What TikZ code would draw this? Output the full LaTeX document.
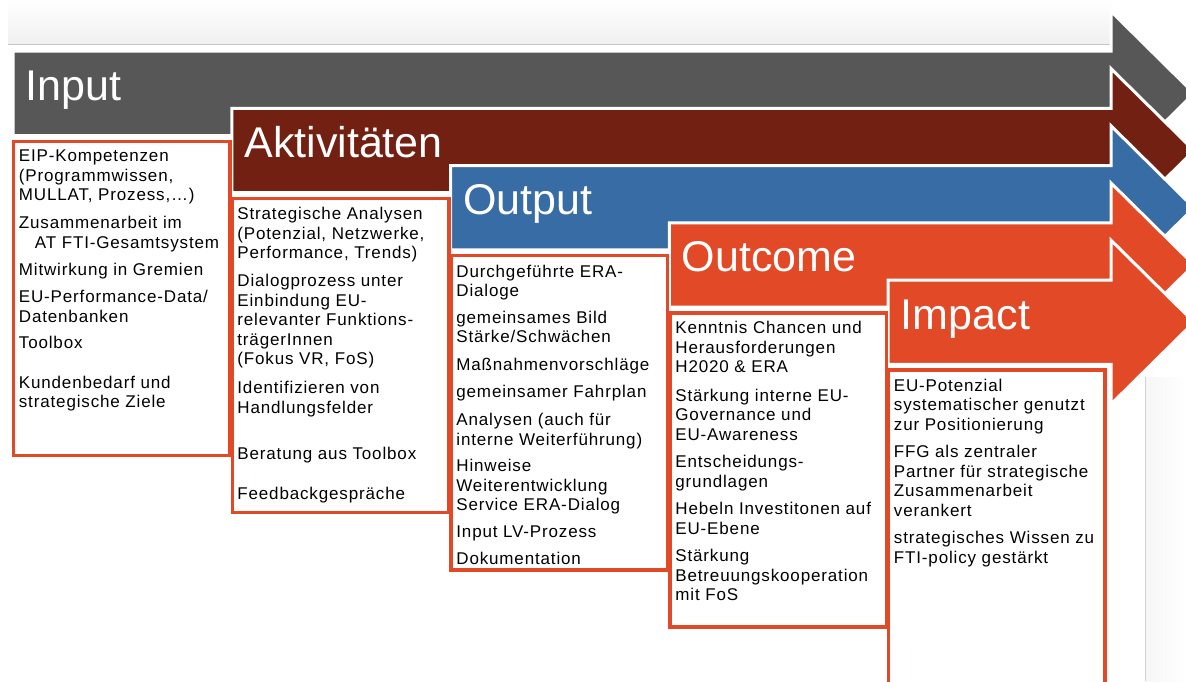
\documentclass[tikz,border=0pt]{standalone}
\usepackage{fontspec}
\setmainfont{Liberation Sans}
\newfontfamily\boxfont{Liberation Sans}[LetterSpace=5]

\definecolor{inputgray}{RGB}{87,87,87}
\definecolor{aktbrown}{RGB}{114,32,18}
\definecolor{outblue}{RGB}{56,108,165}
\definecolor{phasered}{RGB}{226,73,38}

\begin{document}
\begin{tikzpicture}[x=0.5pt, y=-0.5pt,
    phase/.style={draw=white, line width=1.5pt, line join=miter},
    frame/.style={draw=phasered, fill=white, line width=1.75pt},
    title/.style={anchor=base west, inner sep=0pt, text=white, font=\fontsize{21.5pt}{24pt}\selectfont},
    txt/.style={anchor=north west, inner sep=0pt, align=left, font=\boxfont\fontsize{8.5pt}{9.8pt}\selectfont}]
    \useasboundingbox (0,0) rectangle (1186,681);
    \clip (0,0) rectangle (1186,681);

    % page edges
    \shade[top color=white, bottom color=gray!12] (8,0) rectangle (1112,44);
    \draw[gray!45, line width=0.5pt] (8,44) -- (1112,44);
    \shade[left color=gray!7, right color=white] (1145,377) rectangle (1186,681);
    \draw[gray!35, line width=0.5pt] (1145,377) -- (1145,681);

    % arrows
    \draw[phase, fill=inputgray] (13,51.2) -- (1111,51.2) -- (1111,11.4) -- (1194,93.4)
        -- (1111,175.4) -- (1111,135.5) -- (13,135.5) -- cycle;
    \draw[phase, fill=aktbrown] (231.8,108.4) -- (1111,108.4) -- (1111,68.6) -- (1194,150.6)
        -- (1111,232.6) -- (1111,192.7) -- (231.8,192.7) -- cycle;
    \draw[phase, fill=outblue] (450.6,165.6) -- (1111,165.6) -- (1111,125.8) -- (1194,207.8)
        -- (1111,289.8) -- (1111,249.9) -- (450.6,249.9) -- cycle;
    \draw[phase, fill=phasered] (669.4,222.8) -- (1111,222.8) -- (1111,183) -- (1194,265)
        -- (1111,347) -- (1111,307.1) -- (669.4,307.1) -- cycle;
    \draw[phase, fill=phasered] (888.2,280) -- (1111,280) -- (1111,240.2) -- (1194,322.2)
        -- (1111,404.2) -- (1111,364.3) -- (888.2,364.3) -- cycle;

    \node[title] (tin)  at (25,100)     {Input};
    \node[title] (takt) at (244,157.2)  {Aktivitäten};
    \node[title] (tout) at (463,214.5)  {Output};
    \node[title] (toc)  at (681.5,271.7) {Outcome};
    \node[title] (tim)  at (900.5,329)  {Impact};

    % boxes
    \draw[frame] (13.5,141.3) rectangle (230,455.5);
    \draw[frame] (232.3,198.5) rectangle (448.8,512.7);
    \draw[frame] (451.1,255.7) rectangle (667.6,569.9);
    \draw[frame] (669.9,312.9) rectangle (886.4,627.1);
    \draw[frame] (888.7,370.1) rectangle (1105.2,684.3);

    % Input
    \node[txt] (in1) at (18.5,149.4) {EIP-Kompetenzen\\(Programmwissen,\\MULLAT, Prozess,…)};
    \node[txt] (in2) at (18.5,215.7) {Zusammenarbeit im\\\hspace*{8pt}AT FTI-Gesamtsystem};
    \node[txt] (in3) at (18.5,262.7) {Mitwirkung in Gremien};
    \node[txt] (in4) at (18.5,289.7) {EU-Performance-Data/\\Datenbanken};
    \node[txt] (in5) at (18.5,335.7) {Toolbox};
    \node[txt] (in6) at (18.5,375.4) {Kundenbedarf und\\strategische Ziele};

    % Aktivitaeten
    \node[txt] (ak1) at (237,207) {Strategische Analysen\\(Potenzial, Netzwerke,\\Performance, Trends)};
    \node[txt] (ak2) at (237,273.7) {Dialogprozess unter\\Einbindung EU-\\relevanter Funktions-\\trägerInnen\\(Fokus VR, FoS)};
    \node[txt] (ak3) at (237,380.7) {Identifizieren von\\Handlungsfelder};
    \node[txt] (ak4) at (237,446.7) {Beratung aus Toolbox};
    \node[txt] (ak5) at (237,486.7) {Feedbackgespräche};

    % Output
    \node[txt] (out1) at (456,264.4) {Durchgeführte ERA-\\Dialoge};
    \node[txt] (out2) at (456,310.4) {gemeinsames Bild\\Stärke/Schwächen};
    \node[txt] (out3) at (456,357.7) {Maßnahmenvorschläge};
    \node[txt] (out4) at (456,384.4) {gemeinsamer Fahrplan};
    \node[txt] (out5) at (456,412.7) {Analysen (auch für\\interne Weiterführung)};
    \node[txt] (out6) at (456,458.7) {Hinweise\\Weiterentwicklung\\Service ERA-Dialog};
    \node[txt] (out7) at (456,525.4) {Input LV-Prozess};
    \node[txt] (out8) at (456,552) {Dokumentation};

    % Outcome
    \node[txt] (oc1) at (675,321) {Kenntnis Chancen und\\Herausforderungen\\H2020 \& ERA};
    \node[txt] (oc2) at (675,388.4) {Stärkung interne EU-\\Governance und\\EU-Awareness};
    \node[txt] (oc3) at (675,455) {Entscheidungs-\\grundlagen};
    \node[txt] (oc4) at (675,501.7) {Hebeln Investitonen auf\\EU-Ebene};
    \node[txt] (oc5) at (675,548.7) {Stärkung\\Betreuungskooperation\\mit FoS};

    % Impact
    \node[txt] (im1) at (893.5,378.4) {EU-Potenzial\\systematischer genutzt\\zur Positionierung};
    \node[txt] (im2) at (893.5,445) {FFG als zentraler\\Partner für strategische\\Zusammenarbeit\\verankert};
    \node[txt] (im3) at (893.5,531) {strategisches Wissen zu\\FTI-policy gestärkt};
\end{tikzpicture}
\end{document}
